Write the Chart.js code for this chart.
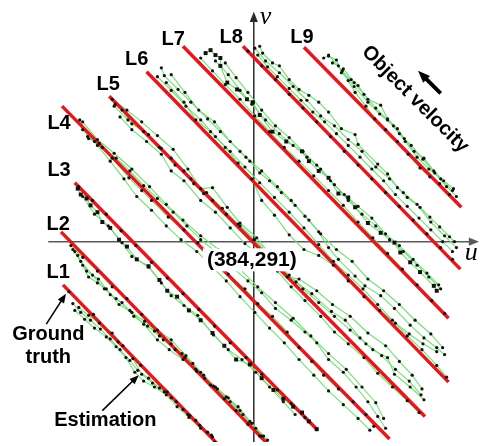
<!DOCTYPE html>
<html>
<head>
<meta charset="utf-8">
<script src="https://cdn.jsdelivr.net/npm/chart.js@4.4.1/dist/chart.umd.min.js"></script>
<style>
  html, body { margin: 0; padding: 0; background: #fff; }
  #wrap { width: 485px; height: 446px; position: relative; }
</style>
</head>
<body>
<div id="wrap"><canvas id="trackChart"></canvas></div>
<script>
// image coordinates (u, v); axes cross at (384, 291)
const lineNames = ["L1", "L2", "L3", "L4", "L5", "L6", "L7", "L8", "L9"];

// ground truth trajectories (start, end)
const truthL1 = [[190, 247], [350, 82]];
const truthL2 = [[188, 301], [405, 78]];
const truthL3 = [[202, 351], [448, 100]];
const truthL4 = [[189, 429], [522, 90]];
const truthL5 = [[237, 439], [558, 113]];
const truthL6 = [[275, 464], [582, 148]];
const truthL7 = [[312, 490], [582, 213]];
const truthL8 = [[373, 490], [594, 263]];
const truthL9 = [[435, 489], [595, 326]];

// estimated trajectories
const trackL1a = [[200,228],[208,219],[218,211],[228,202],[238,192],[248,181],[258,170],[266,160],[277,152],[288,142],[300,132],[312,120],[325,109],[337,97]];
const trackL1b = [[202,221],[212,212],[222,203],[234,194],[244,184],[254,173],[263,158],[272,149],[283,143],[295,135],[306,123],[318,112],[330,101],[342,92]];
const trackL1c = [[206,224],[216,216],[227,208],[240,198],[251,185],[261,172],[270,156],[281,147],[293,138],[305,128],[317,115],[329,104],[341,94]];
const trackL1d = [[196,240],[221,217],[246,189],[269,165],[296,138],[319,114],[344,87]];

const trackL2a = [[202,281],[210,267],[216,255],[225,249],[234,243],[247,227],[260,219],[273,210],[283,200],[292,191],[304,181],[314,173],[325,161],[334,152],[347,141],[360,128],[373,115],[386,101],[398,89]];
const trackL2b = [[205,277],[214,261],[226,253],[238,237],[250,229],[262,215],[276,205],[288,195],[300,187],[311,177],[322,167],[333,155],[345,143],[358,132],[370,119],[382,106],[394,93]];
const trackL2c = [[198,287],[210,275],[225,261],[240,245],[255,233],[270,217],[286,201],[300,191],[315,175],[330,158],[343,144],[356,133],[368,123],[380,108],[392,93]];
const trackL2d = [[200,283],[208,271],[220,257],[232,243],[244,233],[258,221],[272,207],[286,191],[298,181],[312,171],[326,159],[340,145],[354,131],[366,119],[378,105],[390,93]];

const trackL3a = [[205,345],[208,339],[214,335],[218,328],[225,321],[230,311],[238,305],[247,293],[255,286],[265,273],[277,266],[288,252],[296,241],[306,235],[318,221],[330,211],[342,198],[354,185],[366,171],[380,166],[392,152],[404,140],[414,131],[424,123],[433,117],[440,108],[448,100]];
const trackL3b = [[210,337],[222,319],[236,307],[250,290],[260,276],[277,265],[290,249],[300,236],[313,226],[327,216],[343,196],[358,181],[372,171],[386,158],[400,143],[414,128],[426,115]];
const trackL3c = [[206,347],[220,333],[234,319],[249,302],[264,287],[280,270],[296,254],[312,238],[328,222],[344,205],[360,188],[376,173],[392,156],[408,140],[422,126],[436,112]];

const trackL4a = [[207,415],[216,396],[222,393],[227,391],[240,376],[257,356],[270,343],[280,333],[297,316],[313,303],[327,290],[342,275],[358,258],[375,243],[388,228],[403,215],[418,199],[430,183],[443,169],[455,155],[470,141],[485,128],[498,115],[506,103]];
const trackL4b = [[215,398],[230,387],[244,376],[258,363],[272,348],[286,335],[302,321],[316,307],[330,293],[345,281],[362,265],[378,251],[392,239],[406,223],[422,211],[436,199],[448,188],[460,171],[475,158],[488,143],[500,128],[510,113],[518,101]];
const trackL4c = [[210,405],[225,389],[238,373],[252,355],[265,337],[280,323],[295,307],[310,293],[326,281],[340,267],[356,251],[370,235],[385,219],[400,203],[415,188],[430,171],[445,155],[460,139],[475,125],[490,111],[502,99]];
const trackL4d = [[210,413],[225,395],[242,381],[260,365],[278,347],[295,329],[312,313],[330,297],[348,283],[370,263],[388,245],[406,229],[424,213],[442,195],[460,177],[478,161],[494,143],[508,127],[516,111]];

const trackL5a = [[243,431],[250,425],[260,411],[277,400],[290,386],[300,376],[313,363],[323,350],[333,340],[342,333],[356,319],[370,307],[385,293],[398,280],[413,263],[427,250],[443,238],[463,220],[477,211],[492,193],[505,181],[520,173],[527,156],[543,143],[557,130]];
const trackL5b = [[248,418],[260,405],[275,393],[290,380],[300,363],[313,353],[330,333],[345,321],[360,305],[375,289],[392,275],[408,261],[422,245],[436,231],[452,215],[466,199],[480,187],[496,173],[510,157],[525,143],[540,129],[552,117]];
const trackL5c = [[240,436],[255,425],[270,413],[286,399],[302,385],[317,365],[330,345],[342,346],[357,326],[370,310],[387,295],[418,255],[430,253],[448,241],[464,227],[482,215],[500,198],[518,185],[532,169],[545,155],[555,141]];
const trackL5d = [[242,429],[256,415],[272,403],[288,387],[304,369],[320,355],[336,341],[352,325],[368,309],[384,293],[420,257],[434,243],[450,229],[466,215],[482,201],[498,187],[514,175],[528,161],[542,149],[554,135]];

const trackL6a = [[290,468],[293,460],[307,446],[320,433],[337,416],[350,403],[370,383],[380,373],[390,361],[400,353],[412,341],[426,328],[440,313],[450,301],[460,285],[470,273],[487,256],[497,246],[513,236],[527,223],[543,206],[557,193],[570,183],[578,176]];
const trackL6b = [[286,459],[300,445],[315,429],[330,415],[345,398],[360,383],[375,367],[390,351],[405,336],[420,321],[435,305],[450,288],[465,271],[480,257],[495,243],[510,227],[525,211],[540,195],[555,181],[570,165],[580,153]];
const trackL6c = [[295,453],[313,433],[325,415],[340,403],[355,387],[368,371],[382,355],[392,333],[405,318],[420,298],[435,283],[450,277],[465,267],[480,251],[496,235],[512,221],[528,208],[542,197],[556,187],[570,179]];
const trackL6d = [[300,461],[314,443],[328,425],[344,413],[360,393],[376,377],[392,363],[408,347],[422,333],[436,317],[452,299],[468,283],[484,271],[500,253],[516,241],[532,227],[548,211],[564,197],[576,183]];

const trackL7a = [[335,483],[340,486],[345,481],[350,478],[350,470],[357,453],[367,446],[377,436],[383,433],[390,420],[403,403],[417,393],[433,383],[440,373],[450,363],[460,356],[470,340],[480,336],[487,326],[500,310],[513,300],[527,290],[533,280],[543,270],[553,260],[567,246],[570,241]];
const trackL7b = [[330,478],[342,465],[355,451],[370,436],[385,419],[400,403],[415,387],[430,373],[445,358],[460,343],[475,328],[490,311],[505,295],[520,279],[535,263],[550,247],[565,231],[578,218]];
const trackL7c = [[345,475],[358,461],[370,445],[382,431],[396,415],[410,401],[424,389],[438,377],[452,365],[466,349],[480,333],[494,319],[508,307],[522,293],[536,281],[550,267],[562,255],[574,243]];
const trackL7d = [[355,473],[366,458],[378,443],[392,425],[406,409],[420,397],[434,383],[448,369],[462,353],[476,339],[490,327],[504,315],[518,299],[532,287],[546,273],[560,259],[572,247]];

const trackL8a = [[390,490],[393,483],[403,473],[410,470],[420,456],[430,446],[440,440],[450,433],[460,423],[473,406],[487,400],[490,390],[510,370],[520,360],[530,346],[540,336],[553,326],[563,316],[573,306],[583,296],[588,291]];
const trackL8b = [[388,481],[398,469],[408,459],[420,447],[432,435],[444,423],[456,413],[468,401],[480,389],[492,377],[504,365],[516,353],[528,339],[540,327],[552,315],[564,303],[576,291],[586,281]];
const trackL8c = [[378,485],[392,470],[406,456],[420,441],[434,427],[448,413],[462,398],[476,383],[490,369],[504,355],[518,341],[532,327],[546,313],[560,299],[574,285],[586,273]];
const trackL8d = [[385,488],[396,475],[410,463],[424,449],[438,435],[452,419],[466,409],[480,395],[494,383],[508,367],[522,355],[536,341],[550,329],[564,311],[578,297],[590,285]];

const trackL9a = [[455,478],[460,480],[468,476],[473,463],[483,456],[490,450],[500,436],[513,430],[520,416],[530,406],[537,396],[547,383],[557,376],[567,363],[577,353],[587,345]];
const trackL9b = [[464,473],[470,470],[480,455],[487,443],[498,429],[507,416],[518,405],[530,393],[541,380],[553,366],[563,357],[573,350],[583,339]];
const trackL9c = [[475,467],[486,453],[496,441],[508,427],[520,415],[532,401],[544,389],[556,375],[568,361],[580,347],[590,337]];
const trackL9d = [[460,481],[474,465],[486,449],[500,433],[512,421],[526,409],[538,393],[550,377],[562,365],[574,355],[586,343]];

const truths = [truthL1, truthL2, truthL3, truthL4, truthL5, truthL6, truthL7, truthL8, truthL9];
const tracks = [
  trackL1a, trackL1b, trackL1c, trackL1d,
  trackL2a, trackL2b, trackL2c, trackL2d,
  trackL3a, trackL3b, trackL3c,
  trackL4a, trackL4b, trackL4c, trackL4d,
  trackL5a, trackL5b, trackL5c, trackL5d,
  trackL6a, trackL6b, trackL6c, trackL6d,
  trackL7a, trackL7b, trackL7c, trackL7d,
  trackL8a, trackL8b, trackL8c, trackL8d,
  trackL9a, trackL9b, trackL9c, trackL9d
];
const bigTracks = [trackL3a, trackL7a];

// where the text and arrows sit, in (u, v)
const lineLabelAt = [[185,260],[185,308],[186,363],[186,411],[236,451],[265,476],[302,497],[361,499],[433,499]];
const origin = [384, 291];
const uAxis = [[175, 291], [613, 291]];
const vAxis = [[384, 87], [384, 525]];

const xy = a => a.map(p => ({ x: p[0], y: p[1] }));

const datasets = [];
tracks.forEach(t => datasets.push({
  data: xy(t), showLine: true, borderColor: "#72e072", borderWidth: 1.1,
  pointRadius: 0, order: 3
}));
truths.forEach(t => datasets.push({
  data: xy(t), showLine: true, borderColor: "#e8161b", borderWidth: 3.4,
  pointRadius: 0, order: 2
}));
tracks.forEach(t => {
  const big = bigTracks.includes(t);
  datasets.push({
    data: xy(t), showLine: false, pointStyle: big ? "rect" : "circle",
    pointRadius: big ? 2.8 : 1.6, backgroundColor: "#111", borderWidth: 0, order: 1
  });
});

function arrow(ctx, x1, y1, x2, y2, w, head, color) {
  const a = Math.atan2(y2 - y1, x2 - x1);
  ctx.save();
  ctx.strokeStyle = color; ctx.fillStyle = color; ctx.lineWidth = w;
  ctx.beginPath();
  ctx.moveTo(x1, y1);
  ctx.lineTo(x2 - Math.cos(a) * head * 0.8, y2 - Math.sin(a) * head * 0.8);
  ctx.stroke();
  ctx.beginPath();
  ctx.moveTo(x2, y2);
  ctx.lineTo(x2 - head * Math.cos(a - 0.38), y2 - head * Math.sin(a - 0.38));
  ctx.lineTo(x2 - head * Math.cos(a + 0.38), y2 - head * Math.sin(a + 0.38));
  ctx.closePath();
  ctx.fill();
  ctx.restore();
}

const axesPlugin = {
  id: "axesPlugin",
  beforeDatasetsDraw(chart) {
    const { ctx, scales: { x, y } } = chart;
    const px = p => [x.getPixelForValue(p[0]), y.getPixelForValue(p[1])];
    const u0 = px(uAxis[0]), u1 = px(uAxis[1]);
    const v0 = px(vAxis[0]), v1 = px(vAxis[1]);
    arrow(ctx, u0[0], u0[1], u1[0], u1[1], 1.5, 11, "#5a5a5a");
    arrow(ctx, v0[0], v0[1], v1[0], v1[1], 1.5, 11, "#2a2a2a");
  },
  afterDatasetsDraw(chart) {
    const { ctx, scales: { x, y } } = chart;
    const px = (u, v) => [x.getPixelForValue(u), y.getPixelForValue(v)];
    ctx.save();
    ctx.textAlign = "center";
    ctx.textBaseline = "middle";
    ctx.fillStyle = "#000";

    // origin label on a white box
    const o = px(origin[0] - 2, origin[1] - 18);
    ctx.font = "bold 21px 'Liberation Sans', Arial, sans-serif";
    ctx.fillStyle = "#fff";
    ctx.fillRect(o[0] - 49, o[1] - 11, 98, 23);
    ctx.fillStyle = "#000";
    ctx.fillText("(" + origin[0] + "," + origin[1] + ")", o[0], o[1] + 1);

    ctx.font = "bold 20px 'Liberation Sans', Arial, sans-serif";
    lineNames.forEach((n, i) => {
      const p = px(lineLabelAt[i][0], lineLabelAt[i][1]);
      ctx.fillText(n, p[0], p[1]);
    });

    let p = px(175, 196); ctx.fillText("Ground", p[0], p[1]);
    p = px(175, 173); ctx.fillText("truth", p[0], p[1]);
    p = px(233, 109); ctx.fillText("Estimation", p[0], p[1]);

    let a = px(173, 207), b = px(193, 238);
    arrow(ctx, a[0], a[1], b[0], b[1], 1.6, 10, "#000");
    a = px(230, 119); b = px(267, 155);
    arrow(ctx, a[0], a[1], b[0], b[1], 1.6, 10, "#000");

    // velocity note
    p = px(548, 436);
    ctx.save();
    ctx.translate(p[0], p[1]);
    ctx.rotate(Math.PI / 4);
    ctx.font = "bold 20px 'Liberation Sans', Arial, sans-serif";
    ctx.fillText("Object velocity", 0, 0);
    ctx.restore();
    a = px(574, 442); b = px(551, 465);
    arrow(ctx, a[0], a[1], b[0], b[1], 4, 13, "#000");

    ctx.font = "italic 26px 'Liberation Serif', 'Times New Roman', serif";
    p = px(605, 279); ctx.fillText("u", p[0], p[1]);
    p = px(396, 520); ctx.fillText("v", p[0], p[1]);
    ctx.restore();
  }
};

new Chart(document.getElementById("trackChart").getContext("2d"), {
  type: "scatter",
  data: { datasets: datasets },
  options: {
    responsive: true,
    maintainAspectRatio: false,
    animation: false,
    layout: { padding: 0 },
    plugins: { legend: { display: false }, tooltip: { enabled: false } },
    scales: {
      x: { type: "linear", min: 130, max: 615, display: false },
      y: { type: "linear", min: 87, max: 533, display: false }
    }
  },
  plugins: [axesPlugin]
});
</script>
</body>
</html>
